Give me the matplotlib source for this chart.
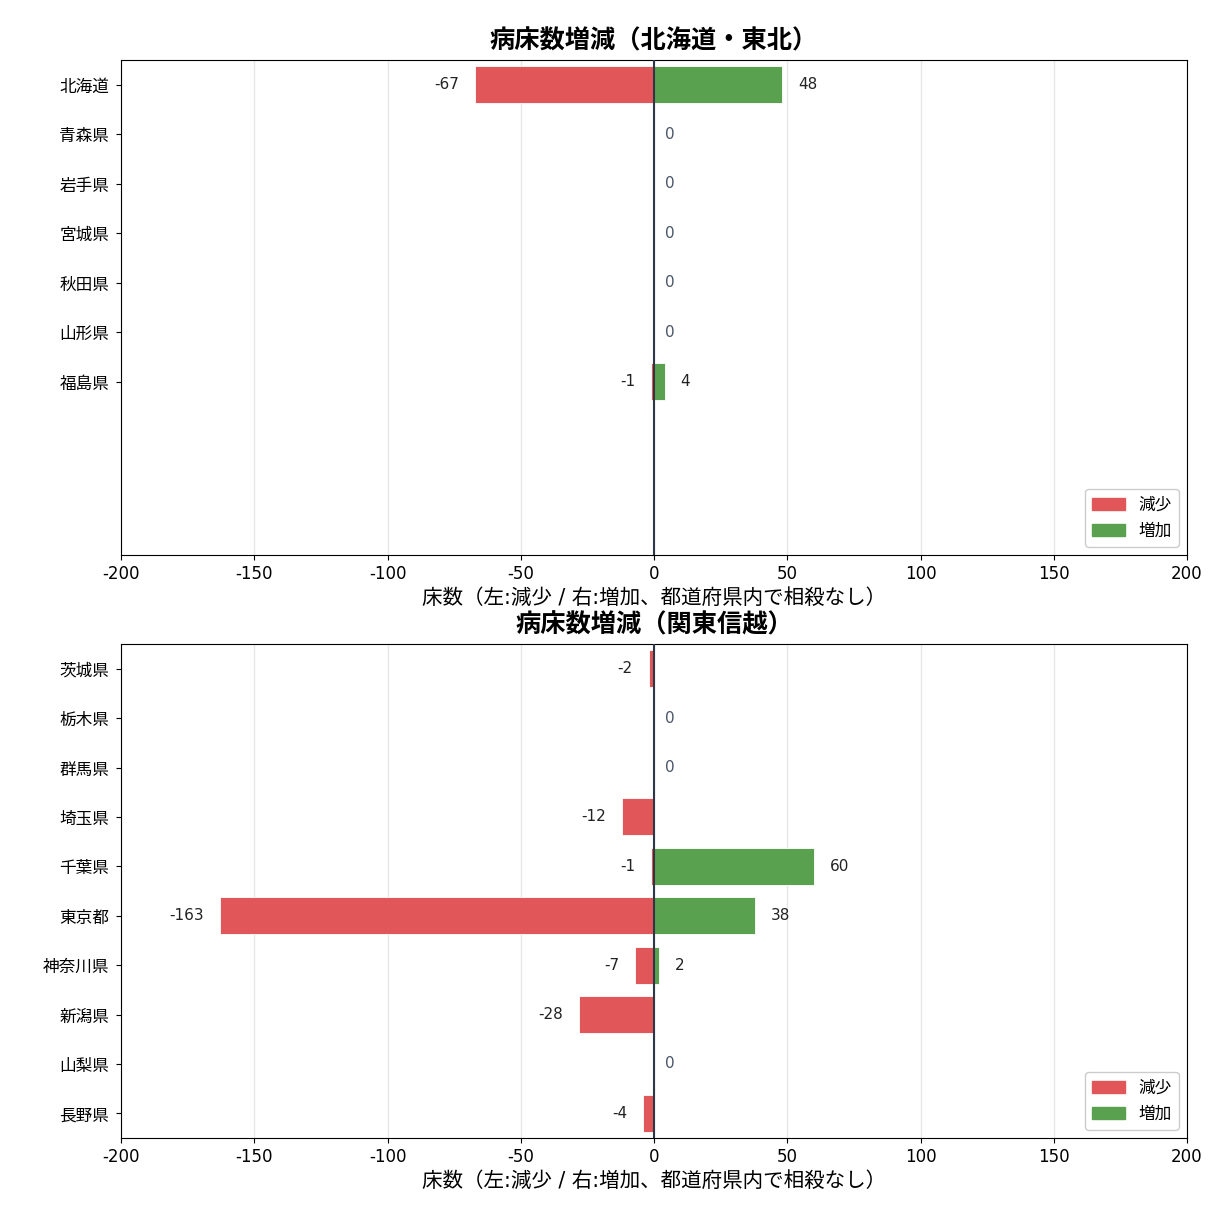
import matplotlib
matplotlib.use("Agg")
import matplotlib.pyplot as plt
from matplotlib.patches import Patch

plt.rcParams['font.family'] = ['DejaVu Sans', 'Noto Sans CJK JP']

# Data
pref_top = ["北海道", "青森県", "岩手県", "宮城県", "秋田県", "山形県", "福島県"]
dec_top = [-67, 0, 0, 0, 0, 0, -1]
inc_top = [48, 0, 0, 0, 0, 0, 4]

pref_bot = ["茨城県", "栃木県", "群馬県", "埼玉県", "千葉県", "東京都", "神奈川県", "新潟県", "山梨県", "長野県"]
dec_bot = [-2, 0, 0, -12, -1, -163, -7, -28, 0, -4]
inc_bot = [0, 0, 0, 0, 60, 38, 2, 0, 0, 0]

titles = ["病床数増減（北海道・東北）", "病床数増減（関東信越）"]
xlabel = "床数（左:減少 / 右:増加、都道府県内で相殺なし）"
xticks = [-200, -150, -100, -50, 0, 50, 100, 150, 200]

RED = "#e15759"
GREEN = "#59a14f"

fig = plt.figure(figsize=(12.11, 12.11), dpi=100)
W = H = 1211.0
def ax_at(l, t, r, b):
    return fig.add_axes([l / W, 1 - b / H, (r - l) / W, (b - t) / H])

axes = [ax_at(121, 60, 1187, 555), ax_at(121, 644, 1187, 1138)]
datasets = [(pref_top, dec_top, inc_top), (pref_bot, dec_bot, inc_bot)]
nmax = 10

for ax, (prefs, dec, inc), title in zip(axes, datasets, titles):
    y = list(range(len(prefs)))
    ax.barh(y, dec, height=0.75, color=RED, edgecolor="white", linewidth=0.6, zorder=2, label="減少")
    ax.barh(y, inc, height=0.75, color=GREEN, edgecolor="white", linewidth=0.6, zorder=2, label="増加")
    ax.axvline(0, color="#2d3748", linewidth=1.5, zorder=3)
    for yi, d, i in zip(y, dec, inc):
        if d < 0:
            ax.text(d - 6, yi, f"{d}", ha="right", va="center", fontsize=11, color="#222222")
        if i > 0:
            ax.text(i + 6, yi, f"{i}", ha="left", va="center", fontsize=11, color="#222222")
        if d == 0 and i == 0:
            ax.text(4, yi, "0", ha="left", va="center", fontsize=11, color="#4a5568")
    ax.set_xlim(-200, 200)
    ax.set_ylim(nmax - 0.5, -0.5)
    ax.set_yticks(y)
    ax.set_yticklabels(prefs, fontsize=12)
    ax.tick_params(axis="y", pad=5)
    ax.set_xticks(xticks)
    ax.set_xticklabels([str(t) for t in xticks], fontsize=12)
    ax.grid(axis="x", color="#e6e6e6", linewidth=1, zorder=0)
    ax.set_axisbelow(True)
    ax.set_title(title, fontsize=18.2, fontweight="bold", pad=8)
    ax.set_xlabel(xlabel, fontsize=14.8, labelpad=4)
    ax.legend(handles=[Patch(color=RED, label="減少"), Patch(color=GREEN, label="増加")],
              loc="lower right", fontsize=12, framealpha=1, edgecolor="#cccccc")

fig.savefig("out.png", dpi=100)
